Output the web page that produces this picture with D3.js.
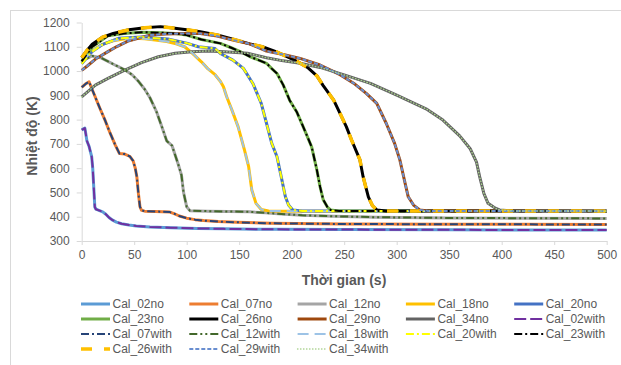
<!DOCTYPE html>
<html>
<head>
<meta charset="utf-8">
<script src="https://cdn.jsdelivr.net/npm/d3@7"></script>
<style>
  body { margin: 0; background: #fff; }
  svg text { font-family: "Liberation Sans", Arial, sans-serif; fill: #595959; }
</style>
</head>
<body>
<svg id="chart" width="621" height="365"></svg>
<script>
// ---- data: [time (s), temperature (K)] ----
var cal02 = [[0,758],[3,765],[5,712],[7,690],[9.5,648],[10.5,600],[11.5,520],[12.5,440],[13.5,431],[17,425],[20,420],[23,410],[26,397],[29,387],[33,378],[38,371],[45,366],[52,362],[65,358],[85,355],[110,352],[135,350],[180,348],[250,347],[350,346],[500,345]];
var cal07 = [[0,933],[4,948],[7,956],[9.5,929],[17,850],[22,800],[27,745],[32,695],[36,660],[41,658],[46,648],[49,630],[51,600],[52.5,565],[54,496],[55.5,441],[57,426],[60,423],[70,422],[84,419],[88,413],[93,403],[100,394],[108,388],[116,384],[130,380],[148,377],[180,373],[250,370],[350,369],[500,368]];
var cal12 = [[0,1045],[5,1052],[10,1062],[18,1055],[25,1040],[33,1022],[41,1005],[48,985],[54,958],[60,925],[65,890],[71,835],[76,775],[81,712],[86,693],[92,615],[95,572],[97,500],[100,441],[103,425],[120,423],[160,420],[175,416],[190,411],[210,406],[240,402],[280,398],[350,395],[420,394],[500,393]];
var cal18 = [[0,1035],[5,1060],[10,1085],[20,1110],[30,1125],[40,1132],[50,1135],[60,1133],[70,1128],[81,1122],[90,1112],[98,1100],[105,1075],[114,1038],[120,1010],[127,985],[132,958],[135,935],[138,895],[143,840],[149,770],[155,675],[159,606],[162,510],[166,455],[171,430],[178,424],[200,423],[500,422]];
var cal20 = [[0,1030],[10,1080],[20,1110],[35,1135],[57,1140],[82,1132],[100,1115],[111,1100],[127,1093],[132,1073],[144,1045],[154,1011],[163,949],[171,867],[176,785],[181,702],[186,647],[190,565],[194,482],[197,448],[201,428],[210,424],[500,423]];
var cal23 = [[0,1040],[10,1100],[25,1145],[40,1155],[57,1160],[75,1158],[89,1155],[100,1148],[114,1130],[132,1114],[143,1095],[151,1080],[160,1060],[176,1032],[181,1010],[186,990],[192,942],[198,880],[205,830],[212,760],[219,688],[224,592],[227,524],[230,470],[234,440],[237,428],[245,424],[500,423]];
var cal26 = [[0,1055],[5,1085],[10,1110],[20,1140],[30,1155],[45,1170],[60,1178],[75,1183],[85,1178],[100,1170],[113,1162],[130,1148],[145,1130],[160,1112],[172,1100],[185,1080],[195,1060],[205,1040],[215,1015],[224,980],[230,940],[240,880],[246,826],[252,771],[257,716],[265,634],[268,565],[273,482],[277,445],[281,428],[290,424],[500,423]];
var cal29 = [[0,1003],[5,1020],[14,1052],[25,1080],[33,1100],[45,1125],[65,1148],[80,1153],[97,1155],[113,1155],[129,1144],[144,1128],[160,1112],[176,1082],[192,1068],[208,1052],[227,1025],[246,985],[259,950],[271,908],[281,867],[290,785],[298,702],[303,634],[308,538],[311,482],[316,448],[322,428],[330,424],[500,423]];
var cal34 = [[0,894],[13,942],[25,970],[41,1004],[57,1035],[73,1059],[89,1073],[105,1080],[120,1083],[136,1080],[158,1073],[176,1055],[192,1042],[208,1032],[227,1015],[250,984],[275,949],[300,901],[329,842],[344,798],[360,733],[370,680],[376,625],[379,565],[383,496],[387,455],[394,435],[398,428],[410,424],[500,423]];

var xTicks = [0, 50, 100, 150, 200, 250, 300, 350, 400, 450, 500];
var yTicks = [300, 400, 500, 600, 700, 800, 900, 1000, 1100, 1200];

// series in legend / drawing order; "with" runs overlap the "no" runs
var series = [
  { name: "Cal_02no",   data: cal02, color: "#5B9BD5", width: 3,   dash: null },
  { name: "Cal_07no",   data: cal07, color: "#ED7D31", width: 3,   dash: null },
  { name: "Cal_12no",   data: cal12, color: "#A5A5A5", width: 3,   dash: null },
  { name: "Cal_18no",   data: cal18, color: "#FFC000", width: 3,   dash: null },
  { name: "Cal_20no",   data: cal20, color: "#4472C4", width: 3,   dash: null },
  { name: "Cal_23no",   data: cal23, color: "#70AD47", width: 3,   dash: null },
  { name: "Cal_26no",   data: cal26, color: "#000000", width: 3,   dash: null },
  { name: "Cal_29no",   data: cal29, color: "#9E480E", width: 3,   dash: null },
  { name: "Cal_34no",   data: cal34, color: "#636363", width: 3,   dash: null },
  { name: "Cal_02with", data: cal02, color: "#7030A0", width: 2,   dash: "12,4" },
  { name: "Cal_07with", data: cal07, color: "#264478", width: 2,   dash: "8,3,2,3" },
  { name: "Cal_12with", data: cal12, color: "#43682B", width: 2,   dash: "8,3,2,3,2,3" },
  { name: "Cal_18with", data: cal18, color: "#9DC3E6", width: 2,   dash: "11,6" },
  { name: "Cal_20with", data: cal20, color: "#FFFF00", width: 2,   dash: "8,3,2,3" },
  { name: "Cal_23with", data: cal23, color: "#000000", width: 2,   dash: "8,3,2,3" },
  { name: "Cal_26with", data: cal26, color: "#FFC000", width: 3.5, dash: "11,12" },
  { name: "Cal_29with", data: cal29, color: "#698ED0", width: 2,   dash: "4,2" },
  { name: "Cal_34with", data: cal34, color: "#A9D18E", width: 1.5, dash: "0.3,2.7" }
];

var svg = d3.select("#chart");

// chart area border
svg.append("rect")
  .attr("x", 10.5).attr("y", 10.5)
  .attr("width", 620).attr("height", 360)
  .attr("fill", "none").attr("stroke", "#D9D9D9");

var xScale = d3.scaleLinear().domain([0, 500]).range([81.7, 606.7]);
var yScale = d3.scaleLinear().domain([300, 1200]).range([241, 22.5]);

// axes
var xAxis = svg.append("g")
  .attr("transform", "translate(0,241)")
  .call(d3.axisBottom(xScale).tickValues(xTicks).tickSize(4).tickSizeOuter(0).tickPadding(5));
var yAxis = svg.append("g")
  .attr("transform", "translate(81.7,0)")
  .call(d3.axisLeft(yScale).tickValues(yTicks).tickFormat(d3.format("d"))
    .tickSize(5).tickSizeOuter(0).tickPadding(7));

[xAxis, yAxis].forEach(function (g) {
  g.selectAll(".domain, line").attr("stroke", "#D9D9D9");
  g.selectAll("text")
    .attr("fill", "#595959")
    .style("font-size", "12px")
    .style("font-family", "'Liberation Sans', Arial, sans-serif");
});

// axis titles
svg.append("text")
  .attr("x", 344).attr("y", 285)
  .attr("text-anchor", "middle")
  .style("font-size", "14px").style("font-weight", "bold")
  .text("Thời gian (s)");

svg.append("text")
  .attr("transform", "translate(37,136) rotate(-90)")
  .attr("text-anchor", "middle")
  .style("font-size", "14px").style("font-weight", "bold")
  .text("Nhiệt độ (K)");

// lines
var lineGen = d3.line()
  .x(function (d) { return xScale(d[0]); })
  .y(function (d) { return yScale(d[1]); });

svg.append("g").selectAll("path")
  .data(series)
  .enter()
  .append("path")
  .attr("d", function (d) { return lineGen(d.data); })
  .attr("fill", "none")
  .attr("stroke", function (d) { return d.color; })
  .attr("stroke-width", function (d) { return d.width; })
  .attr("stroke-dasharray", function (d) { return d.dash; })
  .attr("stroke-linejoin", "round")
  .attr("stroke-linecap", function (d) { return d.name === "Cal_34with" ? "round" : "butt"; });

// legend, 5 columns
var legend = svg.append("g").selectAll("g")
  .data(series)
  .enter()
  .append("g")
  .attr("transform", function (d, i) {
    return "translate(" + (81 + (i % 5) * 108.3) + "," + (304 + Math.floor(i / 5) * 15) + ")";
  });

legend.append("line")
  .attr("x1", 0).attr("x2", 29).attr("y1", 0).attr("y2", 0)
  .attr("stroke", function (d) { return d.color; })
  .attr("stroke-width", function (d) { return d.width; })
  .attr("stroke-dasharray", function (d) { return d.dash; })
  .attr("stroke-linecap", function (d) { return d.name === "Cal_34with" ? "round" : "butt"; });

legend.append("text")
  .attr("x", 31.5).attr("y", 0)
  .attr("dy", "0.35em")
  .style("font-size", "12px")
  .text(function (d) { return d.name; });
</script>
</body>
</html>
